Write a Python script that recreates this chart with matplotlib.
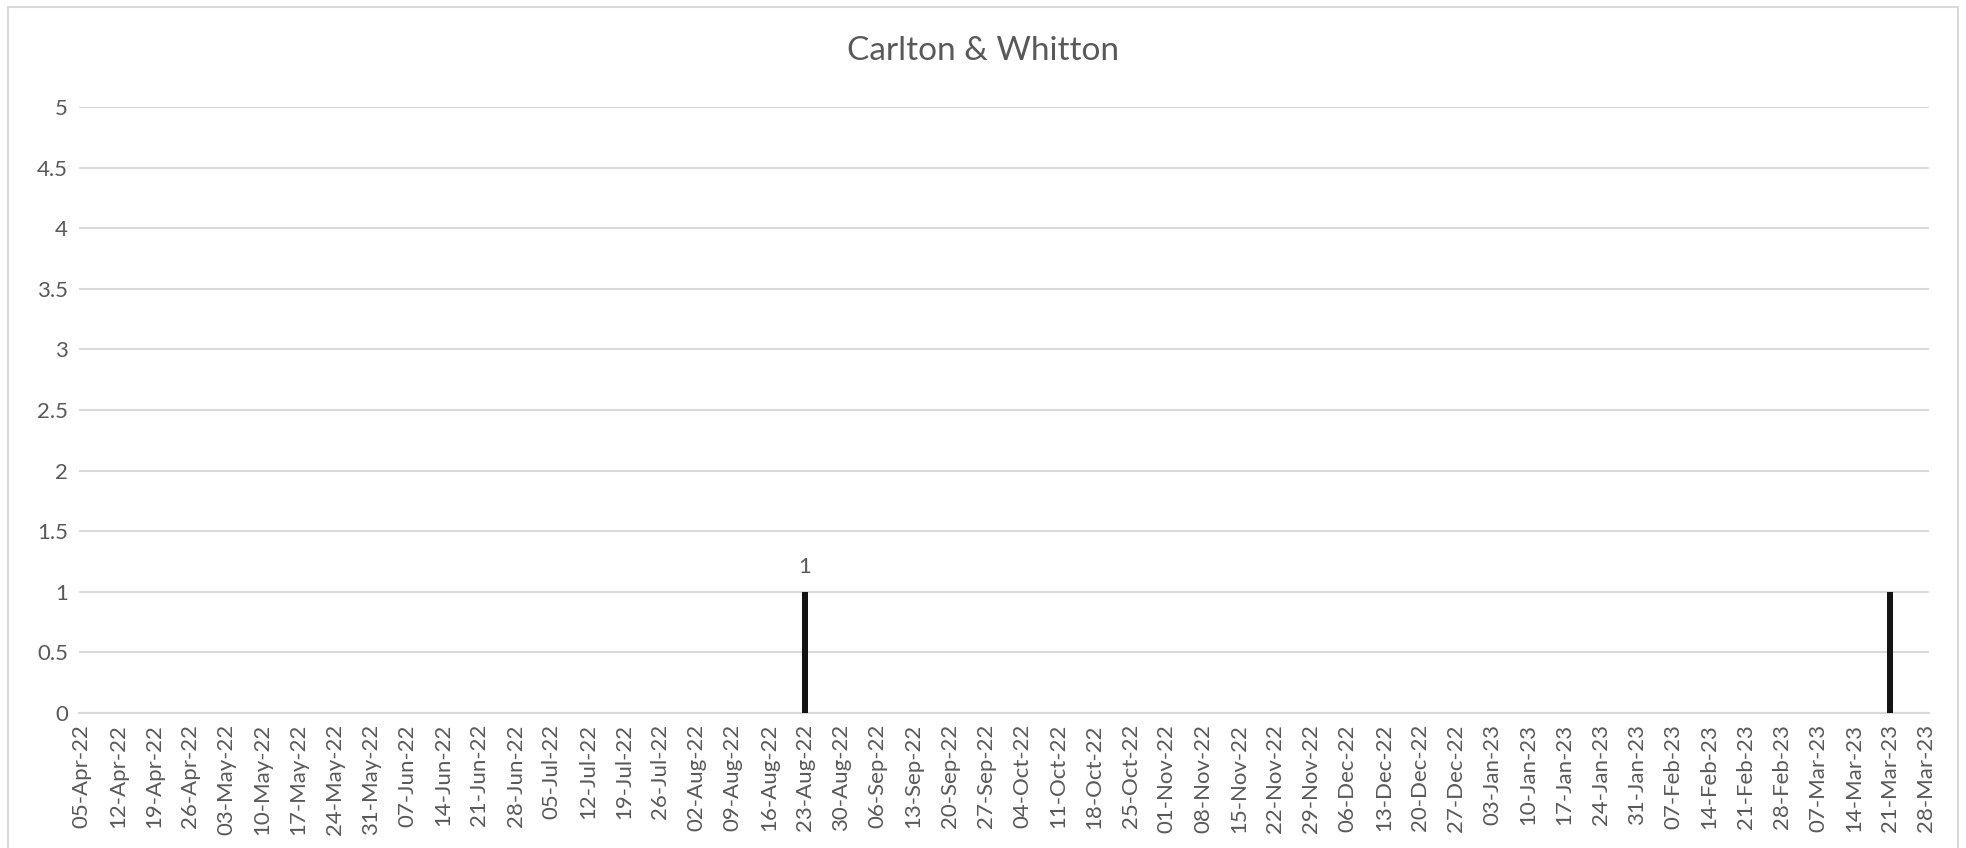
import matplotlib
matplotlib.use("Agg")
import matplotlib.pyplot as plt
import matplotlib.dates as mdates
from matplotlib.patches import Rectangle
import datetime as dt

title = "Carlton & Whitton"
axis_start = "2022-04-05"
axis_end = "2023-03-28"
event_dates = ["2022-08-23", "2023-03-21"]
event_counts = [1, 1]
show_label = [True, False]
y_ticks = [0, 0.5, 1, 1.5, 2, 2.5, 3, 3.5, 4, 4.5, 5]

plt.rcParams['font.family'] = ['Lato', 'DejaVu Sans']
txt = '#595959'
grid = '#d9d9d9'

fig = plt.figure(figsize=(19.66, 8.48), dpi=100)
fig.patches.append(Rectangle((8/1966, -0.01), 1950/1966, 1 - 7/848 + 0.01,
                             transform=fig.transFigure, fill=False,
                             edgecolor=grid, linewidth=1.5))
ax = fig.add_axes([79/1966, 135/848, 1850/1966, 606/848])

start = dt.date.fromisoformat(axis_start)
end = dt.date.fromisoformat(axis_end)
xs = [mdates.date2num(dt.date.fromisoformat(d)) for d in event_dates]
bars = ax.bar(xs, event_counts, width=1.1, color='#141414', zorder=3)
for x, v, s in zip(xs, event_counts, show_label):
    if s:
        ax.annotate(f"{v}", (x, v), xytext=(0, 11), textcoords='offset points',
                    ha='center', va='bottom', fontsize=16, color=txt)

ticks = []
d = start
while d <= end:
    ticks.append(d)
    d += dt.timedelta(days=7)
ax.set_xticks([mdates.date2num(t) for t in ticks])
ax.set_xticklabels([t.strftime('%d-%b-%y') for t in ticks], rotation=90,
                   fontsize=16, color=txt)
ax.set_xlim(mdates.date2num(start) - 0.5, mdates.date2num(end) + 0.5)
ax.set_ylim(0, 5)
ax.set_yticks(y_ticks)
ax.set_yticklabels([f"{v:g}" for v in y_ticks], fontsize=16, color=txt)
ax.tick_params(length=0, pad=8)
ax.yaxis.grid(True, color=grid, linewidth=1.5, zorder=0)
ax.set_axisbelow(True)
for s in ['top', 'right', 'left']:
    ax.spines[s].set_visible(False)
ax.spines['bottom'].set_color(grid)
ax.spines['bottom'].set_linewidth(1.5)
fig.text(0.5, 1 - 51/848, title, ha='center', va='center', fontsize=24, color=txt)

fig.savefig('out.png', dpi=100)
